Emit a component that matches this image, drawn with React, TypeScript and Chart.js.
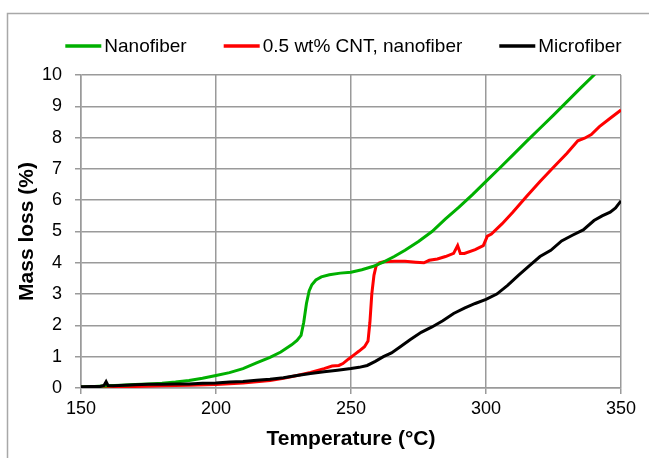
import React, { useEffect, useRef } from "react";
import { Chart, registerables } from "chart.js";

Chart.register(...registerables);

const seriesLabels = ["Nanofiber", "0.5 wt% CNT, nanofiber", "Microfiber"];
const seriesColors = ["#00b000", "#ff0000", "#000000"];

const nanoTemp = [150, 155, 160, 165, 170, 175, 180, 185, 190, 195, 200, 205, 210, 215, 220, 224, 228, 230, 231.5, 232.5, 233.5, 234.5, 235.5, 237, 239, 242, 246, 250, 254, 258, 262, 266, 270, 275, 280, 285, 290, 295, 300, 305, 310, 315, 320, 325, 330, 335, 340, 342];
const nanoMass = [0.03, 0.05, 0.07, 0.09, 0.11, 0.13, 0.15, 0.19, 0.24, 0.31, 0.4, 0.49, 0.62, 0.8, 0.98, 1.15, 1.38, 1.52, 1.68, 2.1, 2.7, 3.1, 3.3, 3.45, 3.55, 3.62, 3.67, 3.7, 3.78, 3.88, 4.02, 4.2, 4.4, 4.68, 5.0, 5.4, 5.78, 6.18, 6.6, 7.02, 7.45, 7.88, 8.3, 8.72, 9.15, 9.58, 10.0, 10.2];

const cntTemp = [150, 160, 170, 180, 190, 200, 210, 215, 220, 225, 230, 235, 240, 243, 245.5, 247, 249, 251, 253, 255, 256.3, 257, 257.7, 258.5, 259.3, 260.5, 262, 266, 270, 274, 277, 279, 282, 285, 288, 289.5, 290.5, 292, 296, 299, 300.5, 302, 306, 310, 315, 320, 325, 330, 334, 336.5, 339, 342, 346, 350];
const cntMass = [0.02, 0.03, 0.05, 0.07, 0.09, 0.11, 0.16, 0.2, 0.24, 0.31, 0.4, 0.5, 0.62, 0.7, 0.72, 0.78, 0.92, 1.05, 1.18, 1.32, 1.5, 2.1, 3.0, 3.6, 3.9, 4.0, 4.03, 4.05, 4.05, 4.02, 4.0, 4.08, 4.12, 4.2, 4.3, 4.55, 4.3, 4.3, 4.42, 4.55, 4.85, 4.92, 5.25, 5.62, 6.12, 6.6, 7.05, 7.5, 7.9, 7.98, 8.1, 8.35, 8.62, 8.88];

const microTemp = [150, 154, 157, 158.5, 159.3, 160, 162, 166, 170, 175, 180, 185, 190, 195, 200, 205, 210, 215, 220, 225, 230, 235, 240, 245, 250, 253, 256, 259, 262, 265, 268, 272, 276, 280, 284, 288, 292, 296, 300, 304, 308, 312, 316, 320, 324, 328, 332, 336, 340, 343, 346, 348, 350];
const microMass = [0.04, 0.05, 0.05, 0.08, 0.2, 0.08, 0.07, 0.09, 0.1, 0.12, 0.12, 0.13, 0.13, 0.15, 0.16, 0.19, 0.21, 0.25, 0.28, 0.33, 0.4, 0.46, 0.52, 0.57, 0.62, 0.66, 0.72, 0.85, 1.0, 1.12, 1.3, 1.55, 1.78, 1.95, 2.15, 2.38, 2.55, 2.7, 2.83, 3.0, 3.28, 3.6, 3.9, 4.2, 4.4, 4.7, 4.88, 5.05, 5.35, 5.5, 5.62, 5.75, 5.98];

const xMin = 150;
const xMax = 350;
const xStep = 50;
const yMin = 0;
const yMax = 10;
const yStep = 1;

const xTitle = "Temperature (°C)";
const yTitle = "Mass loss (%)";

const FONT = '"Liberation Sans", Arial, sans-serif';
const GRID = "#9a9a9a";

function toPoints(xs: number[], ys: number[]) {
  return xs.map((x, i) => ({ x, y: ys[i] }));
}

const framePlugin = {
  id: "frame",
  beforeDraw(chart: any) {
    const ctx = chart.ctx;
    ctx.save();
    ctx.fillStyle = "#ffffff";
    ctx.fillRect(0, 0, chart.width, chart.height);
    ctx.strokeStyle = "#a8a8a8";
    ctx.lineWidth = 1.5;
    ctx.strokeRect(7.5, 13.5, chart.width + 20, chart.height + 20);
    ctx.restore();
  },
};

const legendPlugin = {
  id: "lineLegend",
  afterDraw(chart: any) {
    const ctx = chart.ctx;
    ctx.save();
    ctx.font = `19px ${FONT}`;
    const lineLen = 36;
    const gap = 3;
    const spacing = 37;
    const items = chart.data.datasets.map((ds: any) => ({
      label: ds.label,
      color: ds.borderColor,
      w: lineLen + gap + ctx.measureText(ds.label).width,
    }));
    const total = items.reduce((a: number, it: any) => a + it.w, 0) + spacing * (items.length - 1);
    let x = 343.5 - total / 2;
    const y = 46;
    for (const it of items) {
      ctx.strokeStyle = it.color;
      ctx.lineWidth = 3.5;
      ctx.beginPath();
      ctx.moveTo(x, y);
      ctx.lineTo(x + lineLen, y);
      ctx.stroke();
      ctx.fillStyle = "#000";
      ctx.textBaseline = "middle";
      ctx.textAlign = "left";
      ctx.fillText(it.label, x + lineLen + gap, y + 1);
      x += it.w + spacing;
    }
    ctx.restore();
  },
};

export default function App() {
  const ref = useRef<HTMLCanvasElement>(null);

  useEffect(() => {
    document.body.style.margin = "0";
    const canvas = ref.current;
    if (!canvas) return;
    const chart = new Chart(canvas, {
      type: "line",
      data: {
        datasets: [
          {
            label: seriesLabels[0],
            data: toPoints(nanoTemp, nanoMass),
            borderColor: seriesColors[0],
            backgroundColor: seriesColors[0],
            borderWidth: 3,
            pointRadius: 0,
            tension: 0,
            order: 1,
          },
          {
            label: seriesLabels[1],
            data: toPoints(cntTemp, cntMass),
            borderColor: seriesColors[1],
            backgroundColor: seriesColors[1],
            borderWidth: 3,
            pointRadius: 0,
            tension: 0,
            order: 2,
          },
          {
            label: seriesLabels[2],
            data: toPoints(microTemp, microMass),
            borderColor: seriesColors[2],
            backgroundColor: seriesColors[2],
            borderWidth: 3,
            pointRadius: 0,
            tension: 0,
            order: 0,
          },
        ],
      },
      options: {
        animation: false,
        responsive: false,
        devicePixelRatio: 1,
        parsing: false as any,
        layout: { padding: { top: 75, right: 28, left: 0, bottom: 0 } },
        plugins: {
          legend: { display: false },
          tooltip: { enabled: false },
        },
        scales: {
          x: {
            type: "linear",
            min: xMin,
            max: xMax,
            afterFit: (s: any) => {
              s.height = 70;
            },
            ticks: {
              stepSize: xStep,
              color: "#000",
              font: { family: FONT, size: 18 },
              padding: 4,
              maxRotation: 0,
            },
            grid: { color: GRID, lineWidth: 1.5, tickLength: 6 },
            border: { color: GRID, width: 1.5 },
            title: {
              display: true,
              text: xTitle,
              color: "#000",
              font: { family: FONT, size: 21, weight: "bold" },
              padding: { top: 0, bottom: 6 },
            },
          },
          y: {
            type: "linear",
            min: yMin,
            max: yMax,
            afterFit: (s: any) => {
              s.width = 81;
            },
            ticks: {
              stepSize: yStep,
              color: "#000",
              font: { family: FONT, size: 18 },
              padding: 13,
            },
            grid: { color: GRID, lineWidth: 1.5, tickLength: 6 },
            border: { color: GRID, width: 1.5 },
            title: {
              display: true,
              text: yTitle,
              color: "#000",
              font: { family: FONT, size: 21, weight: "bold" },
              padding: { top: 15, bottom: 0 },
            },
          },
        },
      },
      plugins: [framePlugin, legendPlugin],
    });
    return () => chart.destroy();
  }, []);

  return (
    <div style={{ width: 649, height: 458 }}>
      <canvas ref={ref} width={649} height={458} style={{ display: "block", width: 649, height: 458 }} />
    </div>
  );
}
